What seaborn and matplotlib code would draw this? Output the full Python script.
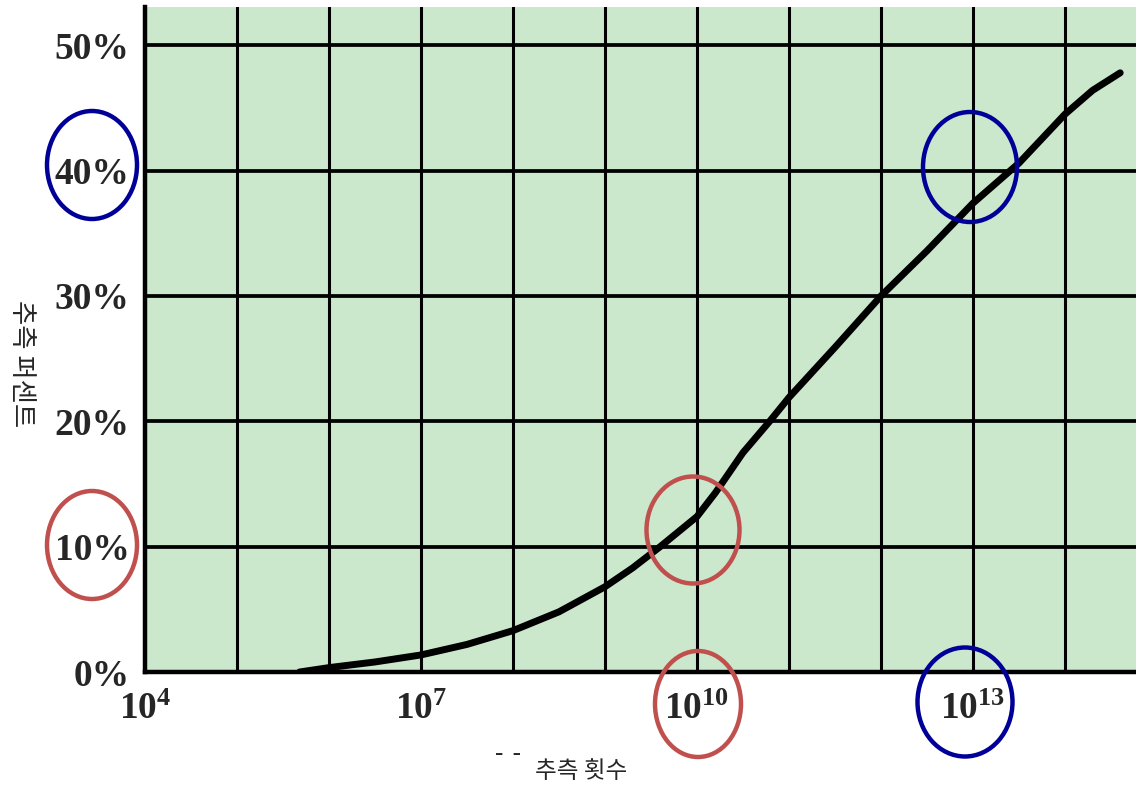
import numpy as np
import pandas as pd
import seaborn as sns
import matplotlib.pyplot as plt
from matplotlib.patches import Ellipse
from matplotlib.ticker import FixedLocator, FuncFormatter

# 추측 횟수 (log10) 와 추측 퍼센트 (%)
log_guesses = [5.68, 6.0, 6.5, 7.0, 7.5, 8.0, 8.5, 9.0, 9.3, 9.6, 9.8, 10.0, 10.2,
               10.5, 10.79, 11.0, 11.5, 12.0, 12.5, 13.0, 13.5, 14.0, 14.3, 14.6]
percent = [0.0, 0.35, 0.8, 1.36, 2.2, 3.3, 4.8, 6.8, 8.3, 10.0, 11.2, 12.4, 14.3,
           17.5, 20.0, 21.9, 25.9, 30.0, 33.6, 37.4, 40.6, 44.5, 46.4, 47.8]
decades = list(range(5, 15))
labelled = [4, 7, 10, 13]
y_ticks = [0, 10, 20, 30, 40, 50]

df = pd.DataFrame({'guesses': [10.0 ** v for v in log_guesses], 'percent': percent})

sns.set_style('white')
plt.rcParams['font.family'] = ['Liberation Serif', 'DejaVu Sans']
plt.rcParams['mathtext.fontset'] = 'custom'
plt.rcParams['mathtext.rm'] = 'Liberation Serif:bold'
plt.rcParams['mathtext.it'] = 'Liberation Serif:bold'
plt.rcParams['mathtext.bf'] = 'Liberation Serif:bold'

W, H = 1136, 787
fig = plt.figure(figsize=(W / 100, H / 100), dpi=100, facecolor='white')
ax = fig.add_axes([145 / W, (H - 672) / H, 1 - 145 / W, (672 - 7) / H])
ax.set_facecolor('#cce8cc')

sns.lineplot(data=df, x='guesses', y='percent', color='black', linewidth=5.0,
             ax=ax, zorder=5, solid_capstyle='round', solid_joinstyle='round')
ax.set_xscale('log')
ax.set_xlim(1e4, 10 ** (4 + (W - 145) / 92.0))
ax.set_ylim(0, 53.05)

# grid lines
for d in decades:
    ax.axvline(10.0 ** d, color='black', linewidth=2.2, zorder=2)
for t in y_ticks[1:]:
    ax.axhline(t, color='black', linewidth=2.7, zorder=2)

ax.xaxis.set_major_locator(FixedLocator([10.0 ** d for d in labelled]))
ax.xaxis.set_minor_locator(FixedLocator([]))
ax.xaxis.set_major_formatter(FuncFormatter(lambda v, p: r'$10^{%d}$' % round(np.log10(v))))
ax.set_yticks(y_ticks)
ax.set_yticklabels(['%d%%' % t for t in y_ticks])
ax.tick_params(axis='x', length=0, pad=15, labelsize=27)
ax.tick_params(axis='y', length=0, pad=11, labelsize=27)
for lab in ax.get_yticklabels():
    lab.set_fontweight('bold')

for side in ['top', 'right']:
    ax.spines[side].set_visible(False)
for side in ['left', 'bottom']:
    ax.spines[side].set_color('black')
    ax.spines[side].set_linewidth(3.2)
    ax.spines[side].set_zorder(6)
ax.set_xlabel('')
ax.set_ylabel('')

kfont = ['Noto Sans CJK KR', 'DejaVu Sans']
fig.text(21 / W, 1 - 364 / H, '추측 퍼센트', rotation=-90, ha='center', va='center',
         fontsize=19, family=kfont)
fig.text(508 / W, 1 - 763 / H, '¯ ¯', ha='center', va='center', fontsize=15,
         fontweight='bold', family=['DejaVu Sans'])
fig.text(581 / W, 1 - 771 / H, '추측 횟수', ha='center', va='center',
         fontsize=17, family=kfont)

# 강조 원
circles = [
    (92, 545, 90, 108, '#c0504d'),
    (698, 704, 86, 106, '#c0504d'),
    (693, 530, 93, 107, '#c0504d'),
    (92, 165, 90, 108, '#000099'),
    (970, 167, 94, 110, '#000099'),
    (965, 702, 95, 109, '#000099'),
]
for cx, cy, w, h, c in circles:
    e = Ellipse((cx / 100, (H - cy) / 100), w / 100, h / 100, fill=False,
                edgecolor=c, linewidth=3.2, transform=fig.dpi_scale_trans, zorder=10)
    fig.add_artist(e)

fig.savefig('out.png', dpi=100)
